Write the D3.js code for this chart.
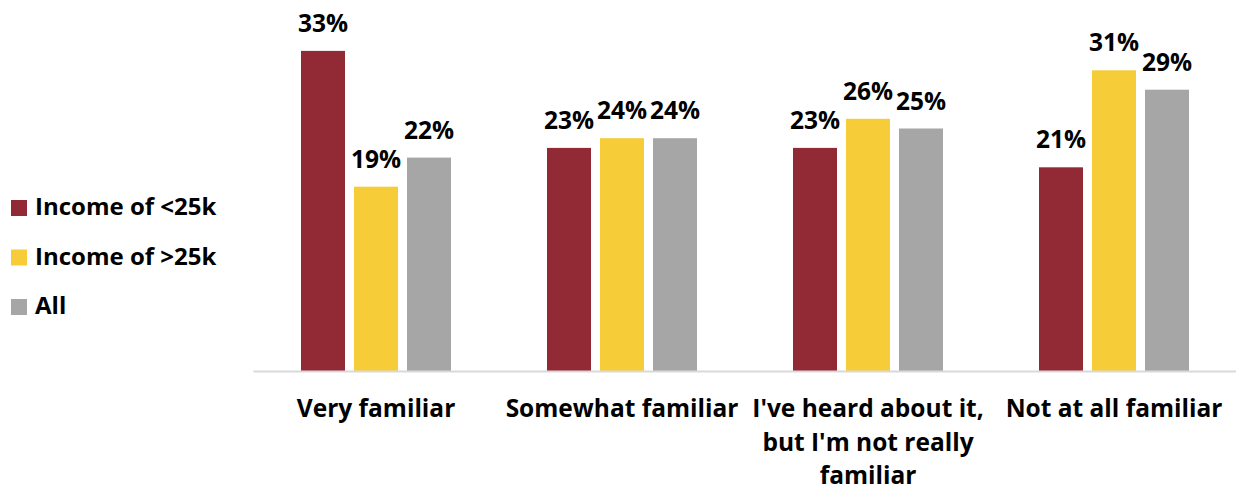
<!DOCTYPE html>
<html>
<head>
<meta charset="utf-8">
<script src="https://cdn.jsdelivr.net/npm/d3@7"></script>
<style>
  html, body { margin: 0; padding: 0; background: #ffffff; }
  svg { display: block; }
  text { font-family: "Open Sans", Lato, sans-serif; font-weight: 700; fill: #000; }
</style>
</head>
<body>
<svg id="chart" width="1236" height="491"></svg>
<script>
// Familiarity by income group (percent of respondents)
const categories = [
  ["Very familiar"],
  ["Somewhat familiar"],
  ["I've heard about it,", "but I'm not really", "familiar"],
  ["Not at all familiar"]
];
const seriesNames = ["Income of <25k", "Income of >25k", "All"];
const incomeUnder25k = [33, 23, 23, 21];
const incomeOver25k = [19, 24, 26, 31];
const allRespondents = [22, 24, 25, 29];
const seriesColors = ["#922A35", "#F6CD38", "#A6A6A6"];

const seriesValues = [incomeUnder25k, incomeOver25k, allRespondents];

const svg = d3.select("#chart");
const baseY = 371;
const labelSize = "24.5px";
const legendSize = "24px";

const x0 = d3.scaleBand()
  .domain(d3.range(categories.length))
  .range([253, 1237])
  .padding(0);

const x1 = d3.scaleBand()
  .domain(d3.range(seriesNames.length))
  .range([0, 150])
  .paddingInner(0.17)
  .paddingOuter(0);

const y = d3.scaleLinear()
  .domain([0, 35])
  .range([baseY, baseY - 35 * 9.7]);

const groupOffset = (x0.bandwidth() - 150) / 2;

// bars
const groups = svg.append("g")
  .selectAll("g")
  .data(categories)
  .join("g")
  .attr("transform", (d, i) => `translate(${x0(i) + groupOffset},0)`);

groups.selectAll("rect")
  .data((d, i) => seriesValues.map((vals, s) => ({ s, v: vals[i] })))
  .join("rect")
  .attr("x", d => x1(d.s))
  .attr("width", x1.bandwidth())
  .attr("y", d => y(d.v))
  .attr("height", d => y(0) - y(d.v))
  .attr("fill", d => seriesColors[d.s]);

// value labels
groups.selectAll("text.val")
  .data((d, i) => seriesValues.map((vals, s) => ({ s, v: vals[i] })))
  .join("text")
  .attr("class", "val")
  .attr("x", d => x1(d.s) + x1.bandwidth() / 2)
  .attr("y", d => y(d.v) - 19)
  .attr("text-anchor", "middle")
  .style("font-size", labelSize)
  .text(d => d.v + "%");

// category axis
const xAxis = d3.axisBottom(x0).tickSize(0).tickFormat("");
const axisG = svg.append("g")
  .attr("transform", `translate(0,${baseY})`)
  .call(xAxis);
axisG.select(".domain").attr("stroke", "#D9D9D9").attr("stroke-width", 2);

axisG.selectAll(".tick").each(function (d) {
  const t = d3.select(this).append("text")
    .attr("text-anchor", "middle")
    .style("font-size", labelSize)
    .attr("fill", "#000");
  categories[d].forEach((line, k) => {
    t.append("tspan")
      .attr("x", 0)
      .attr("y", 46 + k * 33.5)
      .text(line);
  });
});

// legend
const legend = svg.append("g");
const legendRows = legend.selectAll("g")
  .data(seriesNames)
  .join("g")
  .attr("transform", (d, i) => `translate(11,${200 + i * 49.5})`);
legendRows.append("rect")
  .attr("width", 16)
  .attr("height", 16)
  .attr("fill", (d, i) => seriesColors[i]);
legendRows.append("text")
  .attr("x", 24)
  .attr("y", 15)
  .style("font-size", legendSize)
  .text(d => d);
</script>
</body>
</html>
